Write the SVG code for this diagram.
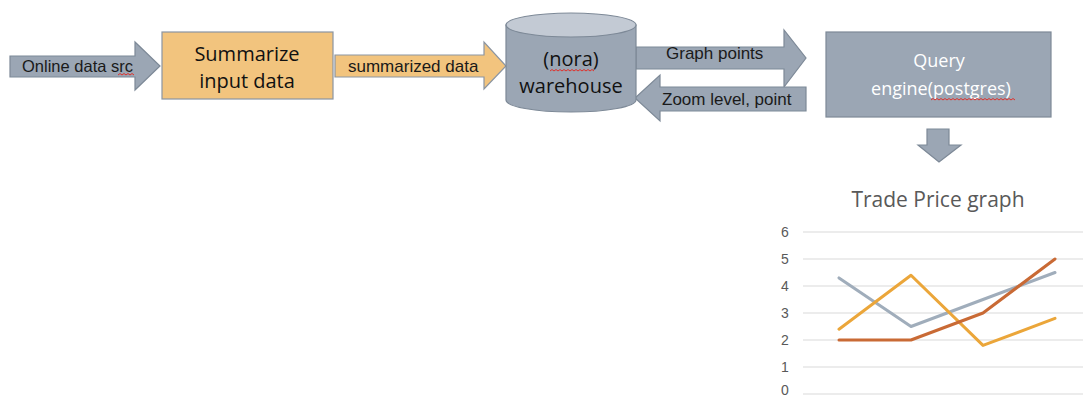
<svg xmlns="http://www.w3.org/2000/svg" width="1083" height="399" viewBox="0 0 1083 399">
  <style>
    .slate { fill: #9ba6b4; stroke: #7d8997; stroke-width: 1.2; }
    .amber { fill: #f2c47e; stroke: #8b95a2; stroke-width: 1.2; }
    .lbl { font-family: "Liberation Sans", Arial, sans-serif; font-size: 16.5px; fill: #1a1a1a; }
    .big { font-family: "Open Sans", "Noto Sans", sans-serif; font-size: 20px; fill: #111; text-anchor: middle; }
    .white { font-family: "Open Sans", "Noto Sans", sans-serif; font-size: 18px; fill: #ffffff; text-anchor: middle; }
    .squig { fill: none; stroke: #e0302a; stroke-width: 1; }
    .grid { stroke: #d9d9d9; stroke-width: 1; }
    .axis { font-family: "Liberation Sans", Arial, sans-serif; font-size: 14px; fill: #595959; text-anchor: middle; }
    .series { fill: none; stroke-width: 3; stroke-linejoin: round; stroke-linecap: round; }
  </style>

  <!-- connectors: block arrows between the stages -->
  <g id="connectors">
    <g id="arrow-online">
      <polygon class="slate" points="10,56 135,56 135,42 160,66 135,90 135,77 10,77"/>
      <text class="lbl" x="22" y="72">Online data src</text>
      <path class="squig" d="M118,75 l2,-1.5 l2,1.5 l2,-1.5 l2,1.5 l2,-1.5 l2,1.5 l2,-1.5 l2,1.5"/>
    </g>
    <g id="arrow-summarized">
      <polygon class="amber" points="335,55 484,55 484,42 506,66 484,89 484,77 335,77"/>
      <text class="lbl" x="348" y="72" style="font-size:17px">summarized data</text>
    </g>
    <g id="arrow-graph-points">
      <polygon class="slate" points="636,47 784,47 784,30 806,58 784,87 784,69 636,69"/>
      <text class="lbl" x="666" y="59" style="font-size:17px">Graph points</text>
    </g>
    <g id="arrow-zoom">
      <polygon class="slate" points="806,87 660,87 660,75 635,98 660,121 660,111 806,111"/>
      <text class="lbl" x="662" y="105" style="font-size:17px">Zoom level, point</text>
    </g>
    <g id="arrow-down">
      <polygon class="slate" points="927,129 949,129 949,145 961,145 939,162 918,145 927,145"/>
    </g>
  </g>

  <!-- summarize stage -->
  <g id="node-summarize">
    <rect class="amber" x="162" y="32" width="171" height="67"/>
    <text class="big" x="247" y="61">Summarize</text>
    <text class="big" x="247" y="88">input data</text>
  </g>

  <!-- warehouse cylinder -->
  <g id="node-warehouse">
    <path class="slate" d="M506,25 L506,100 A65,12 0 0 0 636,100 L636,25 Z"/>
    <ellipse cx="571" cy="25" rx="65" ry="12" fill="#c3cad4" stroke="#7d8997" stroke-width="1.2"/>
    <text class="big" x="571" y="66">(nora)</text>
    <path class="squig" d="M550,71 l2,-1.5 l2,1.5 l2,-1.5 l2,1.5 l2,-1.5 l2,1.5 l2,-1.5 l2,1.5 l2,-1.5 l2,1.5 l2,-1.5 l2,1.5 l2,-1.5 l2,1.5 l2,-1.5 l2,1.5 l2,-1.5 l2,1.5 l2,-1.5 l2,1.5 l2,-1.5 l2,1.5"/>
    <text class="big" x="571" y="93">warehouse</text>
  </g>

  <!-- query engine -->
  <g id="node-query">
    <rect class="slate" x="826" y="32" width="225" height="85"/>
    <text class="white" x="939" y="67">Query</text>
    <text class="white" x="941" y="95">engine(postgres)</text>
    <path class="squig" d="M931,100 l2,-1.5 l2,1.5 l2,-1.5 l2,1.5 l2,-1.5 l2,1.5 l2,-1.5 l2,1.5 l2,-1.5 l2,1.5 l2,-1.5 l2,1.5 l2,-1.5 l2,1.5 l2,-1.5 l2,1.5 l2,-1.5 l2,1.5 l2,-1.5 l2,1.5 l2,-1.5 l2,1.5 l2,-1.5 l2,1.5 l2,-1.5 l2,1.5 l2,-1.5 l2,1.5 l2,-1.5 l2,1.5 l2,-1.5 l2,1.5 l2,-1.5 l2,1.5 l2,-1.5 l2,1.5 l2,-1.5 l2,1.5 l2,-1.5 l2,1.5 l2,-1.5 l2,1.5"/>
  </g>

  <!-- line chart -->
  <g id="node-chart">
    <text x="938" y="207" text-anchor="middle" font-family="'Open Sans', 'Noto Sans', sans-serif" font-size="21" fill="#595959">Trade Price graph</text>
    <g id="gridlines">
      <line class="grid" x1="803" y1="232" x2="1083" y2="232"/>
      <line class="grid" x1="803" y1="259" x2="1083" y2="259"/>
      <line class="grid" x1="803" y1="286" x2="1083" y2="286"/>
      <line class="grid" x1="803" y1="313" x2="1083" y2="313"/>
      <line class="grid" x1="803" y1="340" x2="1083" y2="340"/>
      <line class="grid" x1="803" y1="367" x2="1083" y2="367"/>
      <line class="grid" x1="803" y1="394" x2="1083" y2="394"/>
    </g>
    <g id="y-axis">
      <text class="axis" x="785" y="237">6</text>
      <text class="axis" x="785" y="264">5</text>
      <text class="axis" x="785" y="291">4</text>
      <text class="axis" x="785" y="318">3</text>
      <text class="axis" x="785" y="345">2</text>
      <text class="axis" x="785" y="372">1</text>
      <text class="axis" x="785" y="395">0</text>
    </g>
    <!-- y = 394 - 27 * value; x steps of 72 -->
    <polyline class="series" stroke="#a0adbb" points="839,277.9 911,326.5 983,299.5 1055,272.5"/>
    <polyline class="series" stroke="#eba63a" points="839,329.2 911,275.2 983,345.4 1055,318.4"/>
    <polyline class="series" stroke="#c96a35" points="839,340 911,340 983,313 1055,259"/>
  </g>
</svg>
